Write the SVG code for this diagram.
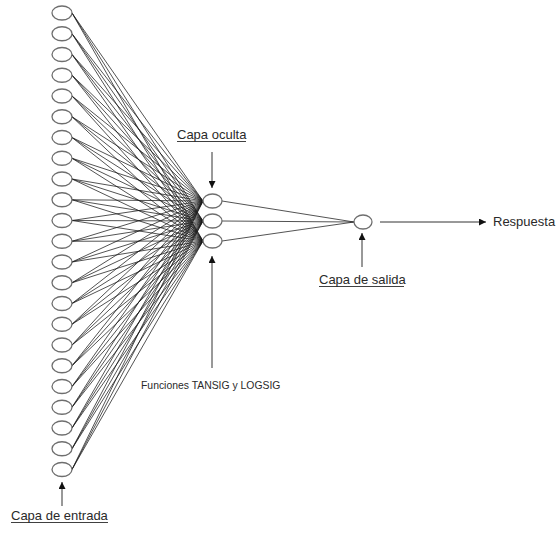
<svg xmlns="http://www.w3.org/2000/svg" width="556" height="533" viewBox="0 0 556 533">
  <style>
    .node { fill: #ffffff; stroke: #6e6e6e; stroke-width: 1.3; }
    .link { fill: none; stroke: #1a1a1a; stroke-width: 0.75; }
    .arrow { fill: none; stroke: #333333; stroke-width: 1; marker-end: url(#tip); }
    .label { font-family: "Liberation Sans", Arial, sans-serif; font-size: 13px; fill: #2a2a2a; }
    .small { font-family: "Liberation Sans", Arial, sans-serif; font-size: 10.4px; fill: #2a2a2a; }
    .uline { stroke: #2a2a2a; stroke-width: 0.9; }
  </style>
  <defs>
    <marker id="tip" viewBox="0 0 10 10" refX="10" refY="5" markerWidth="7" markerHeight="7" orient="auto" markerUnits="userSpaceOnUse">
      <path d="M0,0 L10,5 L0,10 z" fill="#111111"/>
    </marker>
  </defs>
  <rect width="556" height="533" fill="#ffffff"/>

  <!-- connections: input layer to hidden layer, hidden layer to output -->
  <g id="connectors">
    <path class="link" d="M72,13 L203,201 M72,13 L203,221 M72,13 L203,241"/>
    <path class="link" d="M72,33.75 L203,201 M72,33.75 L203,221 M72,33.75 L203,241"/>
    <path class="link" d="M72,54.5 L203,201 M72,54.5 L203,221 M72,54.5 L203,241"/>
    <path class="link" d="M72,75.25 L203,201 M72,75.25 L203,221 M72,75.25 L203,241"/>
    <path class="link" d="M72,96 L203,201 M72,96 L203,221 M72,96 L203,241"/>
    <path class="link" d="M72,116.75 L203,201 M72,116.75 L203,221 M72,116.75 L203,241"/>
    <path class="link" d="M72,137.5 L203,201 M72,137.5 L203,221 M72,137.5 L203,241"/>
    <path class="link" d="M72,158.25 L203,201 M72,158.25 L203,221 M72,158.25 L203,241"/>
    <path class="link" d="M72,179 L203,201 M72,179 L203,221 M72,179 L203,241"/>
    <path class="link" d="M72,199.75 L203,201 M72,199.75 L203,221 M72,199.75 L203,241"/>
    <path class="link" d="M72,220.5 L203,201 M72,220.5 L203,221 M72,220.5 L203,241"/>
    <path class="link" d="M72,241.25 L203,201 M72,241.25 L203,221 M72,241.25 L203,241"/>
    <path class="link" d="M72,262 L203,201 M72,262 L203,221 M72,262 L203,241"/>
    <path class="link" d="M72,282.75 L203,201 M72,282.75 L203,221 M72,282.75 L203,241"/>
    <path class="link" d="M72,303.5 L203,201 M72,303.5 L203,221 M72,303.5 L203,241"/>
    <path class="link" d="M72,324.25 L203,201 M72,324.25 L203,221 M72,324.25 L203,241"/>
    <path class="link" d="M72,345 L203,201 M72,345 L203,221 M72,345 L203,241"/>
    <path class="link" d="M72,365.75 L203,201 M72,365.75 L203,221 M72,365.75 L203,241"/>
    <path class="link" d="M72,386.5 L203,201 M72,386.5 L203,221 M72,386.5 L203,241"/>
    <path class="link" d="M72,407.25 L203,201 M72,407.25 L203,221 M72,407.25 L203,241"/>
    <path class="link" d="M72,428 L203,201 M72,428 L203,221 M72,428 L203,241"/>
    <path class="link" d="M72,448.75 L203,201 M72,448.75 L203,221 M72,448.75 L203,241"/>
    <path class="link" d="M72,469.5 L203,201 M72,469.5 L203,221 M72,469.5 L203,241"/>
    <path class="link" d="M222,201 L354,222 M222,221 L354,222 M222,241 L354,222"/>
    <!-- output arrow and pointer arrows -->
    <line class="arrow" x1="380" y1="222" x2="486" y2="222"/>
    <line class="arrow" x1="212" y1="152" x2="212" y2="188"/>
    <line class="arrow" x1="212" y1="368" x2="212" y2="256"/>
    <line class="arrow" x1="362" y1="267" x2="362" y2="233"/>
    <line class="arrow" x1="62" y1="506" x2="62" y2="482"/>
  </g>

  <!-- input layer -->
  <g id="input-layer">
    <ellipse class="node" cx="62" cy="13" rx="10" ry="7"/>
    <ellipse class="node" cx="62" cy="33.75" rx="10" ry="7"/>
    <ellipse class="node" cx="62" cy="54.5" rx="10" ry="7"/>
    <ellipse class="node" cx="62" cy="75.25" rx="10" ry="7"/>
    <ellipse class="node" cx="62" cy="96" rx="10" ry="7"/>
    <ellipse class="node" cx="62" cy="116.75" rx="10" ry="7"/>
    <ellipse class="node" cx="62" cy="137.5" rx="10" ry="7"/>
    <ellipse class="node" cx="62" cy="158.25" rx="10" ry="7"/>
    <ellipse class="node" cx="62" cy="179" rx="10" ry="7"/>
    <ellipse class="node" cx="62" cy="199.75" rx="10" ry="7"/>
    <ellipse class="node" cx="62" cy="220.5" rx="10" ry="7"/>
    <ellipse class="node" cx="62" cy="241.25" rx="10" ry="7"/>
    <ellipse class="node" cx="62" cy="262" rx="10" ry="7"/>
    <ellipse class="node" cx="62" cy="282.75" rx="10" ry="7"/>
    <ellipse class="node" cx="62" cy="303.5" rx="10" ry="7"/>
    <ellipse class="node" cx="62" cy="324.25" rx="10" ry="7"/>
    <ellipse class="node" cx="62" cy="345" rx="10" ry="7"/>
    <ellipse class="node" cx="62" cy="365.75" rx="10" ry="7"/>
    <ellipse class="node" cx="62" cy="386.5" rx="10" ry="7"/>
    <ellipse class="node" cx="62" cy="407.25" rx="10" ry="7"/>
    <ellipse class="node" cx="62" cy="428" rx="10" ry="7"/>
    <ellipse class="node" cx="62" cy="448.75" rx="10" ry="7"/>
    <ellipse class="node" cx="62" cy="469.5" rx="10" ry="7"/>
  </g>

  <!-- hidden layer -->
  <g id="hidden-layer">
    <ellipse class="node" cx="212.5" cy="201" rx="9.5" ry="7"/>
    <ellipse class="node" cx="212.5" cy="221" rx="9.5" ry="7"/>
    <ellipse class="node" cx="212.5" cy="241" rx="9.5" ry="7"/>
  </g>

  <!-- output layer -->
  <g id="output-layer">
    <ellipse class="node" cx="363" cy="222" rx="9" ry="7"/>
  </g>

  <!-- labels -->
  <g id="label-hidden">
    <text class="label" x="177" y="139">Capa oculta</text>
    <line class="uline" x1="177" y1="141.5" x2="246" y2="141.5"/>
  </g>
  <g id="label-functions">
    <text class="small" x="141" y="389">Funciones TANSIG y LOGSIG</text>
  </g>
  <g id="label-output">
    <text class="label" x="319" y="284">Capa de salida</text>
    <line class="uline" x1="319" y1="286.5" x2="404" y2="286.5"/>
  </g>
  <g id="label-response">
    <text class="label" x="493" y="226" font-size="12">Respuesta</text>
  </g>
  <g id="label-input">
    <text class="label" x="11" y="520">Capa de entrada</text>
    <line class="uline" x1="11" y1="522.5" x2="108" y2="522.5"/>
  </g>
</svg>
